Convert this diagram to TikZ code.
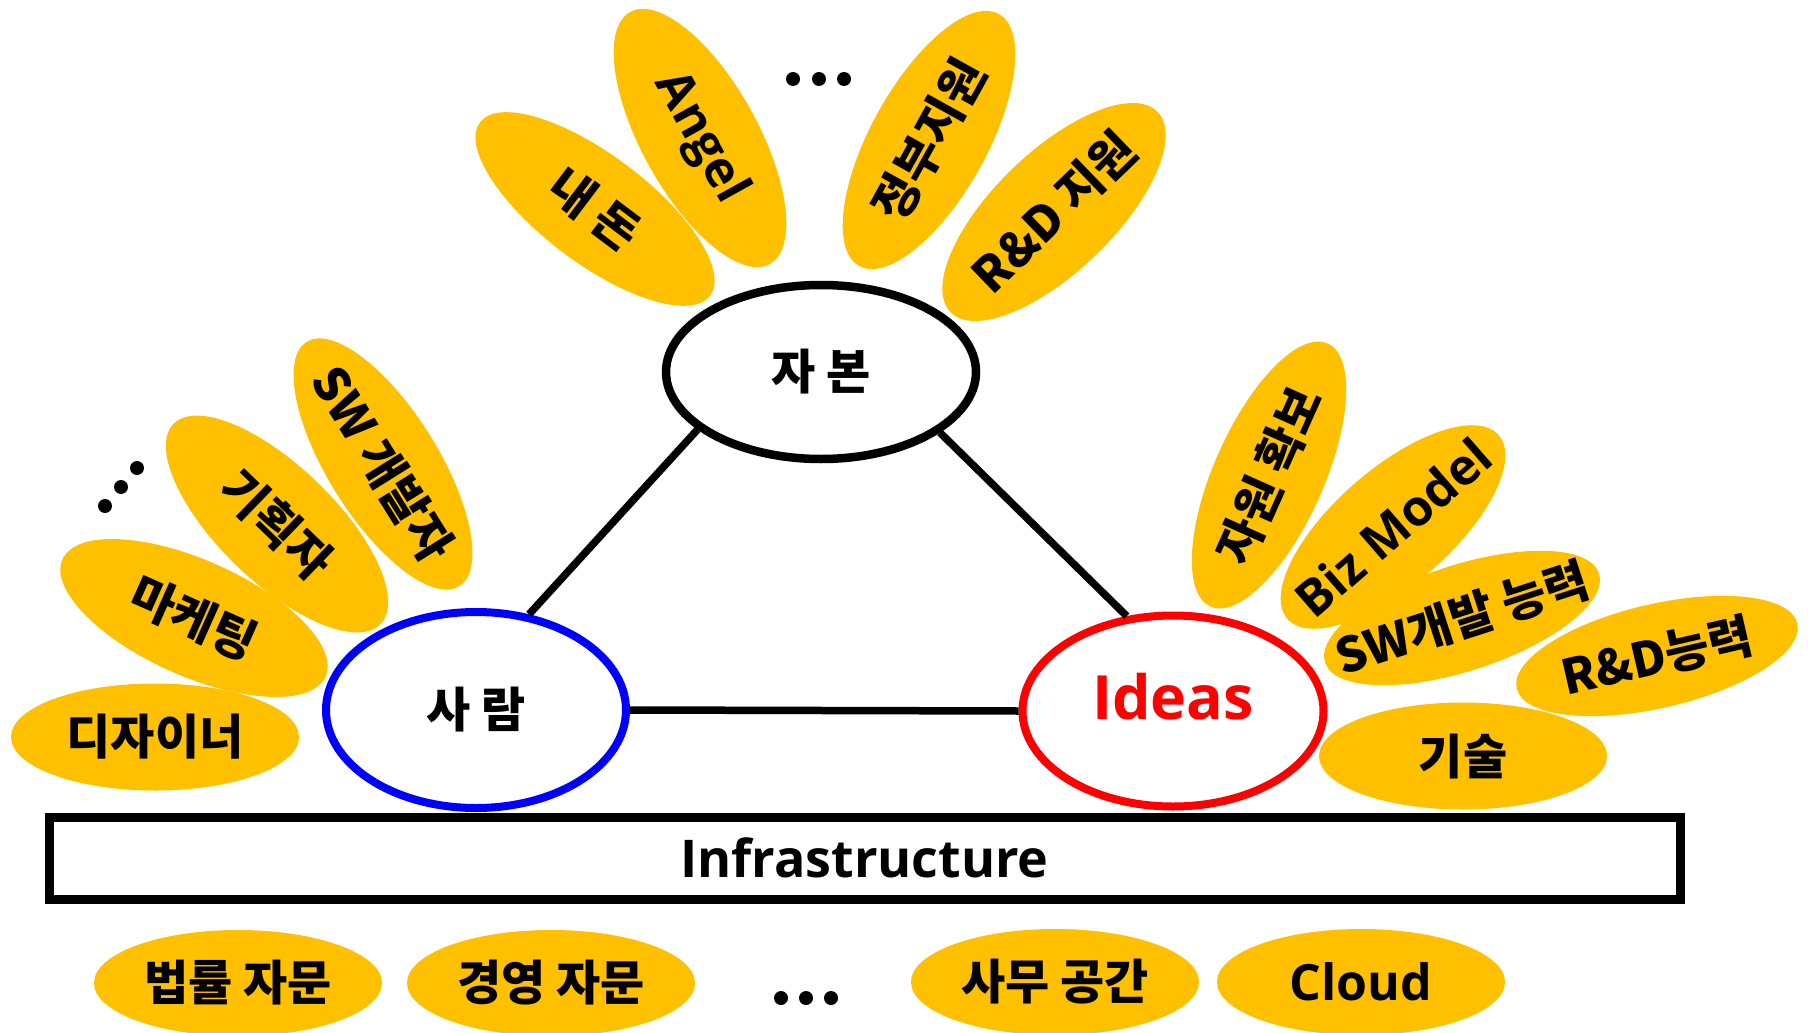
\documentclass[tikz,border=0pt]{standalone}
\usepackage{fontspec}
\setmainfont{Open Sans}
\newfontfamily\kr{Noto Sans CJK KR}
\usetikzlibrary{shapes.geometric}
\definecolor{PetalClr}{rgb}{1,0.7529411764705882,0}
\definecolor{PeopleClr}{rgb}{0,0,1}
\definecolor{IdeaClr}{rgb}{1,0,0}
\newcommand\nowide[1]{\makebox[0pt]{#1}}

\begin{document}
\begin{tikzpicture}[x=1pt,y=-1pt,
  petal/.style={ellipse,fill=PetalClr,inner sep=0pt,minimum width=288pt,minimum height=110pt,
    font=\kr\bfseries\fontsize{48}{52}\selectfont},
  latin/.style={font=\bfseries\fontsize{50}{54}\selectfont},
  hub/.style={ellipse,draw,fill=white,inner sep=0pt,line width=8pt,
    font=\kr\bfseries\fontsize{48}{52}\selectfont},
  link/.style={line width=7.5pt}]
\useasboundingbox (0,0) rectangle (1808,1033);

\node[petal,minimum height=107pt] (designer) at (155,737) {\nowide{디자이너}};
\node[petal,rotate=-24,minimum height=116pt] (marketing) at (194,618) {\nowide{마케팅}};
\node[petal,rotate=-44,minimum height=116pt] (planner) at (277,524) {\nowide{기획자}};
\node[petal,rotate=-58] (swdev) at (383,464) {\nowide{SW 개발자}};
\fill (105,506) circle[radius=7pt] (121,487) circle[radius=7pt] (137,468) circle[radius=7pt];

\node[petal,rotate=-37,minimum height=108pt] (mymoney) at (595,209) {\nowide{내 돈}};
\node[petal,latin,rotate=-61,minimum height=116pt] (angel) at (700,138) {\nowide{Angel}};
\node[petal,rotate=61,minimum height=116pt] (govfund) at (929,140) {\nowide{정부지원}};
\node[petal,rotate=44,minimum height=120pt] (rndfund) at (1054,212) {\nowide{R\&D 지원}};
\fill (793,79) circle[radius=7pt] (819,79) circle[radius=7pt] (844,79) circle[radius=7pt];

\node[petal,rotate=66] (resource) at (1269,475) {\nowide{자원 확보}};
\node[petal,latin,rotate=41,minimum width=280pt,minimum height=116pt] (bizmodel) at (1393,527) {\nowide{Biz Model}};
\node[petal,rotate=18,minimum height=106pt] (swskill) at (1462,618) {\nowide{SW개발 능력}};
\node[petal,rotate=13,minimum height=104pt] (rndskill) at (1657,656) {\nowide{R\&D능력}};
\node[petal,minimum height=107pt] (tech) at (1463,756) {\nowide{기술}};

\node[hub,line width=8.5pt,minimum width=310pt,minimum height=174pt] (capital) at (821,372) {자 본};
\node[hub,draw=PeopleClr,minimum width=300pt,minimum height=196pt] (people) at (476,710) {사 람};
\node[hub,draw=IdeaClr,minimum width=301pt,minimum height=191pt] (ideas) at (1173,711) {};
\node[text=IdeaClr,font=\bfseries\fontsize{61}{65}\selectfont] (ideastxt) at (1173,697) {Ideas};

\draw[link] (capital.205) -- (people.61);
\draw[link] (capital.333) -- (ideas.116);
\draw[link] (people.east) -- (ideas.west);

\node[draw,line width=9pt,minimum width=1631pt,minimum height=82pt,inner sep=0pt,
  font=\bfseries\fontsize{52}{56}\selectfont] (infra) at (864.5,858) {Infrastructure};

\node[petal,minimum height=106pt] (legal) at (238,983) {\nowide{법률 자문}};
\node[petal,minimum height=106pt] (mgmt) at (551,983) {\nowide{경영 자문}};
\fill (781,998) circle[radius=7pt] (806,998) circle[radius=7pt] (831,998) circle[radius=7pt];
\node[petal,minimum height=106pt] (office) at (1055,982) {\nowide{사무 공간}};
\node[petal,latin,minimum height=106pt] (cloud) at (1361,982) {\nowide{Cloud}};

\end{tikzpicture}
\end{document}
